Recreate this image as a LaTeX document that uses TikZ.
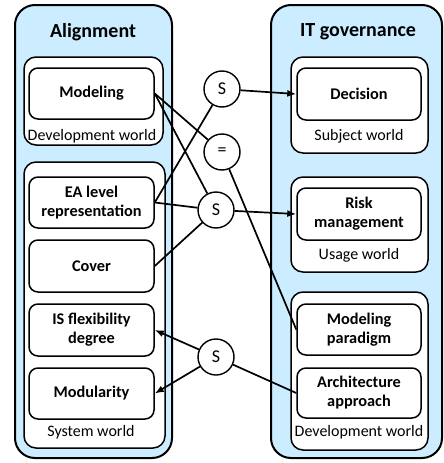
\documentclass[tikz,border=0pt]{standalone}
\usepackage{fontspec}
\setmainfont{Carlito}
\usetikzlibrary{arrows.meta}
\definecolor{panelblue}{RGB}{204,236,255}
\tikzset{
  panel/.style={draw=black, line width=2pt, fill=panelblue, rounded corners=20pt, inner sep=0pt},
  world/.style={draw=black, line width=1.5pt, fill=white, rounded corners=12pt, inner sep=0pt},
  item/.style={draw=black, line width=1.5pt, fill=white, rounded corners=9pt, inner sep=0pt,
    align=center, font=\fontsize{16.3}{19}\selectfont\bfseries},
  paneltitle/.style={font=\fontsize{20}{22}\selectfont\bfseries, inner sep=0pt},
  worldlabel/.style={font=\fontsize{16}{18}\selectfont, inner sep=0pt},
  rel/.style={draw=black, line width=1.4pt, fill=white, circle, minimum size=36pt, inner sep=0pt,
    font=\fontsize{18}{20}\selectfont},
  link/.style={line width=1.7pt},
  arr/.style={line width=1.7pt, -{Latex[length=9pt,width=7pt]}}
}
\begin{document}
\begin{tikzpicture}[x=1pt,y=-1pt]
\useasboundingbox (0,0) rectangle (444,463);

% two panels
\node[panel, minimum width=157pt, minimum height=453pt] (alignP) at (93.5,231.5) {};
\node[panel, minimum width=171pt, minimum height=453pt] (govP) at (356.5,231.5) {};
\node[paneltitle] (alignT) at (93,32) {Alignment};
\node[paneltitle] (govT) at (358,32) {IT governance};

% worlds of the alignment panel
\node[world, minimum width=139pt, minimum height=88pt] (ldev) at (93.5,101) {};
\node[world, minimum width=141pt, minimum height=286pt] (lsys) at (94.5,305) {};
\node[worldlabel] (ldevL) at (92,136) {Development world};
\node[worldlabel] (lsysL) at (91,432) {System world};

\node[item, minimum width=125pt, minimum height=51pt] (modeling) at (91.5,93.5) {Modeling};
\node[item, minimum width=125pt, minimum height=51pt] (ea) at (91.5,202.5) {EA level\\representation};
\node[item, minimum width=125pt, minimum height=52pt] (cover) at (91.5,266) {Cover};
\node[item, minimum width=125pt, minimum height=52pt] (isflex) at (91.5,330) {IS flexibility\\degree};
\node[item, minimum width=125pt, minimum height=51pt] (modul) at (91.5,393.5) {Modularity};

% worlds of the governance panel
\node[world, minimum width=137pt, minimum height=96pt] (subj) at (359.5,105) {};
\node[world, minimum width=137pt, minimum height=95pt] (usage) at (359.5,224.5) {};
\node[world, minimum width=137pt, minimum height=158pt] (rdev) at (359.5,371) {};
\node[worldlabel] (subjL) at (359,136) {Subject world};
\node[worldlabel] (usageL) at (359,255) {Usage world};
\node[worldlabel] (rdevL) at (359,432) {Development world};

\node[item, minimum width=124pt, minimum height=52pt] (decision) at (359,94) {Decision};
\node[item, minimum width=124pt, minimum height=52pt] (risk) at (359,214) {Risk\\management};
\node[item, minimum width=124pt, minimum height=51pt] (paradigm) at (359,329.5) {Modeling\\paradigm};
\node[item, minimum width=124pt, minimum height=50pt] (archi) at (359,393) {Architecture\\approach};

% relation circles
\node[rel] (s1) at (222,89) {S};
\node[rel] (eq) at (222,152) {=};
\node[rel] (s2) at (216,210) {S};
\node[rel] (s3) at (216,357) {S};

% connectors
\draw[arr] (s1) -- (decision.west);
\draw[link] (modeling.east) -- (eq);
\draw[link] (modeling.east) -- (s2);
\draw[link] (ea.east) -- (s1);
\draw[link] (ea.east) -- (s2);
\draw[link] (cover.east) -- (s2);
\draw[arr] (s2) -- (risk.west);
\draw[link] (eq) -- (paradigm.west);
\draw[arr] (s3) -- (isflex.east);
\draw[arr] (s3) -- (modul.east);
\draw[link] (archi.west) -- (s3);
\end{tikzpicture}
\end{document}
